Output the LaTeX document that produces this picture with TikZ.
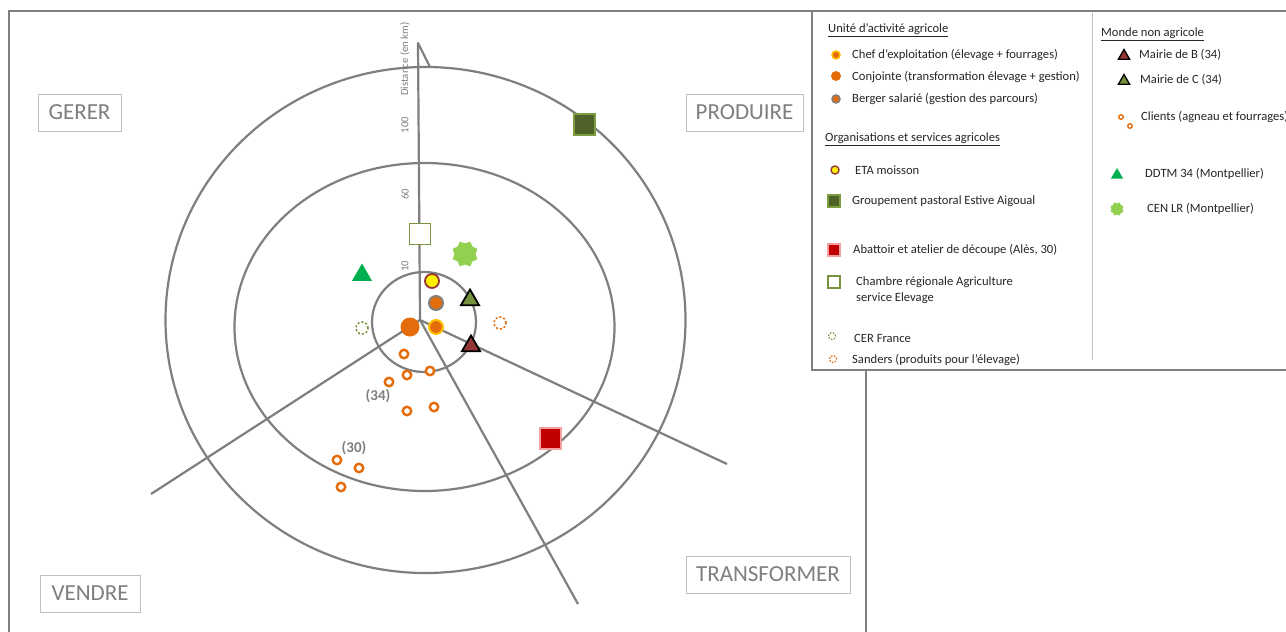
\documentclass[tikz,border=0pt]{standalone}
\usepackage{fontspec}
\setmainfont{Carlito}
\usetikzlibrary{shapes.geometric}
\definecolor{axisgray}{HTML}{7F7F7F}
\definecolor{boxgray}{HTML}{BFBFBF}
\definecolor{textgray}{HTML}{7F7F7F}
\definecolor{orng}{HTML}{E46C0A}
\definecolor{gold}{HTML}{FFC000}
\definecolor{darkred}{HTML}{943634}
\definecolor{olive}{HTML}{76923C}
\definecolor{ddtm}{HTML}{00B050}
\definecolor{cen}{HTML}{92D050}
\definecolor{darkolive}{HTML}{4F6228}
\definecolor{abred}{HTML}{C00000}
\definecolor{abpink}{HTML}{F2A0A0}
\definecolor{legtext}{HTML}{262626}
\tikzset{
  axis/.style={draw=axisgray, line width=2.2pt},
  catbox/.style={draw=boxgray, line width=1pt, text=textgray, font=\fontsize{23}{26}\selectfont, minimum height=37pt, inner sep=0pt},
  scalelab/.style={rotate=90, text=textgray, font=\fontsize{10.8}{12}\selectfont, inner sep=0pt},
  chef/.style={circle, fill=orng, draw=gold, line width=2pt, minimum size=#1, inner sep=0pt},
  conj/.style={circle, fill=orng, minimum size=#1, inner sep=0pt},
  berger/.style={circle, fill=orng, draw=axisgray, line width=2pt, minimum size=#1, inner sep=0pt},
  eta/.style={circle, fill=yellow, draw=darkred, line width=1.8pt, minimum size=#1, inner sep=0pt},
  mairieb/.style={regular polygon, regular polygon sides=3, fill=darkred, draw=black, line width=1.8pt, minimum size=#1, inner sep=0pt},
  mairiec/.style={regular polygon, regular polygon sides=3, fill=olive, draw=black, line width=1.8pt, minimum size=#1, inner sep=0pt},
  ddtmtri/.style={regular polygon, regular polygon sides=3, fill=ddtm, minimum size=#1, inner sep=0pt},
  censtar/.style={star, star points=8, star point ratio=0.78, fill=cen, minimum size=#1, inner sep=0pt},
  chamb/.style={rectangle, draw=olive, line width=1.8pt, fill=white, minimum size=#1, inner sep=0pt},
  grpt/.style={rectangle, fill=darkolive, draw=olive!80!cen, line width=2pt, minimum size=#1, inner sep=0pt},
  abat/.style={rectangle, fill=abred, draw=abpink, line width=2pt, minimum size=#1, inner sep=0pt},
  cer/.style={circle, draw=olive, line width=1.6pt, dash pattern=on 2pt off 2pt, minimum size=#1, inner sep=0pt},
  sand/.style={circle, draw=orng, line width=1.6pt, dash pattern=on 2pt off 2pt, minimum size=#1, inner sep=0pt},
  ring/.style={circle, draw=orng, fill=white, line width=2.4pt, minimum size=#1, inner sep=0pt},
  legtxt/.style={anchor=west, text=legtext, font=\fontsize{12.6}{16}\selectfont, inner sep=0pt, align=left},
  dept/.style={text=textgray, font=\bfseries\fontsize{15}{17}\selectfont, inner sep=0pt},
}
\begin{document}
\begin{tikzpicture}[x=1pt,y=-1pt]
\useasboundingbox (0,0) rectangle (1286,632);
\fill[white] (0,0) rectangle (1286,632);
% main frame
\draw[axisgray, line width=1.5pt] (9,632) -- (9,11) -- (866,11) -- (866,632);
% circles
\draw[axis] (425.5,320) ellipse [x radius=260pt, y radius=253pt];
\draw[axis] (424.5,327) ellipse [x radius=190pt, y radius=164pt];
\draw[axis] (424,322) ellipse [x radius=52pt, y radius=50pt];
% axes
\coordinate (O) at (420,320);
\coordinate (top) at (418,43);
\coordinate (tick) at (430,67);
\coordinate (ll) at (151,494);
\coordinate (rr) at (727,464);
\coordinate (bb) at (578,604);
\draw[axis, line join=round] (tick) -- (top) -- (O);
\draw[axis] (O) -- (ll);
\draw[axis] (O) -- (rr);
\draw[axis] (O) -- (bb);
% scale labels
\node[scalelab] (sdist) at (405,59) {Distance (en km)};
\node[scalelab] (s100) at (405,125) {100};
\node[scalelab] (s60) at (405,194) {60};
\node[scalelab] (s10) at (405,266) {10};
% category boxes
\node[catbox, minimum width=83pt] (gerer) at (79.5,112.5) {GERER};
\node[catbox, minimum width=117pt] (produire) at (744.5,112.5) {PRODUIRE};
\node[catbox, minimum width=100pt] (vendre) at (90,593.5) {VENDRE};
\node[catbox, minimum width=164pt] (transf) at (768,574.5) {TRANSFORMER};
% markers on the diagram
\node[chamb=21pt] (m-chamb) at (420,234) {};
\node[censtar=21pt] (m-cen) at (465,254) {};
\node[ddtmtri=23pt] (m-ddtm) at (362,275) {};
\node[eta=14pt] (m-eta) at (432,281) {};
\node[berger=14pt] (m-berger) at (436,303) {};
\node[mairiec=21pt] (m-mc) at (470,300) {};
\node[conj=19pt] (m-conj) at (410,327) {};
\node[chef=14pt] (m-chef) at (436,327) {};
\node[mairieb=21pt] (m-mb) at (471,346) {};
\node[cer=12pt] (m-cer) at (362,328) {};
\node[sand=12pt] (m-sand) at (500,323) {};
\node[grpt=21pt] (m-grpt) at (584,124) {};
\node[abat=21pt] (m-abat) at (550,438) {};
% clients
\node[ring=8.5pt] (c1) at (404,354) {};
\node[ring=8.5pt] (c2) at (407,375) {};
\node[ring=8.5pt] (c3) at (430,371) {};
\node[ring=8.5pt] (c4) at (389,382) {};
\node[ring=8.5pt] (c5) at (407,411) {};
\node[ring=8.5pt] (c6) at (434,407) {};
\node[ring=8.5pt] (c7) at (337,460) {};
\node[ring=8.5pt] (c8) at (359,468) {};
\node[ring=8.5pt] (c9) at (341,487) {};
\node[dept] (d34) at (378,396) {(34)};
\node[dept] (d30) at (354,448) {(30)};
% legend
\draw[axisgray, line width=1.5pt, fill=white] (812,11) rectangle (1300,370);
\draw[boxgray, line width=0.8pt] (1092,13) -- (1092,360);
\node[legtxt] (h1) at (828,30) {\underline{Unité d’activité agricole}};
\node[chef=8pt, line width=1.5pt] (l-chef) at (836,55) {};
\node[legtxt] (t-chef) at (852,55) {Chef d’exploitation (élevage + fourrages)};
\node[conj=10pt] (l-conj) at (836,76) {};
\node[legtxt] (t-conj) at (852,77) {Conjointe (transformation élevage + gestion)};
\node[berger=8pt, line width=1.5pt] (l-berger) at (836,99) {};
\node[legtxt] (t-berger) at (852,99) {Berger salarié (gestion des parcours)};
\node[legtxt] (h2) at (825,139) {\underline{Organisations et services agricoles}};
\node[eta=8pt, line width=1.4pt] (l-eta) at (835,170) {};
\node[legtxt] (t-eta) at (855,170) {ETA moisson};
\node[grpt=12pt, line width=1.2pt] (l-grpt) at (834,201) {};
\node[legtxt] (t-grpt) at (852,201) {Groupement pastoral Estive Aigoual};
\node[abat=12pt, line width=1.2pt] (l-abat) at (834,250) {};
\node[legtxt] (t-abat) at (853,250) {Abattoir et atelier de découpe (Alès, 30)};
\node[chamb=12pt, line width=1.3pt] (l-chamb) at (834,282) {};
\node[legtxt] (t-chamb) at (856,290) {Chambre régionale Agriculture\\service Elevage};
\node[cer=7pt, line width=1.2pt, dash pattern=on 1.5pt off 1.5pt] (l-cer) at (832,336) {};
\node[legtxt] (t-cer) at (854,338) {CER France};
\node[sand=7pt, line width=1.2pt, dash pattern=on 1.5pt off 1.5pt] (l-sand) at (833,359) {};
\node[legtxt] (t-sand) at (852,360) {Sanders (produits pour l’élevage)};
\node[legtxt] (h3) at (1101,34) {\underline{Monde non agricole}};
\node[mairieb=13pt, line width=1.3pt] (l-mb) at (1124,56) {};
\node[legtxt] (t-mb) at (1139,55) {Mairie de B (34)};
\node[mairiec=13pt, line width=1.3pt] (l-mc) at (1124,81) {};
\node[legtxt] (t-mc) at (1140,80) {Mairie de C (34)};
\node[ring=4.5pt, line width=1.4pt] (l-cl1) at (1121,117) {};
\node[ring=4.5pt, line width=1.4pt] (l-cl2) at (1130,126) {};
\node[legtxt] (t-cl) at (1141,117) {Clients (agneau et fourrages)};
\node[ddtmtri=14pt] (l-ddtm) at (1117,175) {};
\node[legtxt] (t-ddtm) at (1145,174) {DDTM 34 (Montpellier)};
\node[censtar=11pt] (l-cen) at (1117,209) {};
\node[legtxt] (t-cen) at (1147,209) {CEN LR (Montpellier)};
\end{tikzpicture}
\end{document}
